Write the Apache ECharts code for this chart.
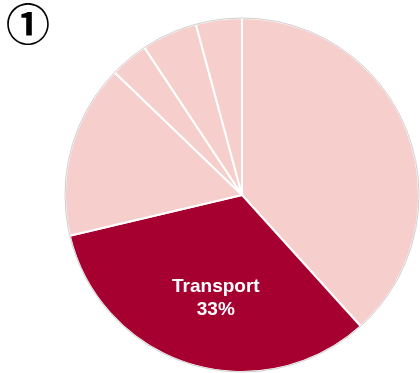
<!DOCTYPE html>
<html>
<head>
<meta charset="utf-8">
<script src="https://cdn.jsdelivr.net/npm/echarts@6/dist/echarts.min.js"></script>
<style>
  html, body { margin: 0; padding: 0; background: #fff; }
  #chart { width: 420px; height: 373px; }
</style>
</head>
<body>
<div id="chart"></div>
<script>
// Slices in clockwise order starting at 12 o'clock
const categories = ['Other A', 'Transport', 'Other B', 'Other C', 'Other D', 'Other E'];
const shares = [38.3, 33, 15.9, 3.5, 5.1, 4.2];
const highlighted = 'Transport';

const LIGHT = '#F6CFCC';
const DARK = '#A5002F';

const sliceData = categories.map((name, i) => {
  const isMain = name === highlighted;
  return {
    name: name,
    value: shares[i],
    itemStyle: { color: isMain ? DARK : LIGHT },
    label: { show: isMain }
  };
});

const chart = echarts.init(document.getElementById('chart'), null, { renderer: 'canvas' });
chart.setOption({
  animation: false,
  title: {
    text: '\u2460',
    left: 1,
    top: -3,
    textStyle: {
      fontFamily: 'Noto Sans CJK JP',
      fontSize: 44,
      fontWeight: 'bold',
      color: '#000'
    }
  },
  series: [
    {
      type: 'pie',
      center: [242, 195],
      radius: [0, 177],
      startAngle: 90,
      clockwise: true,
      avoidLabelOverlap: false,
      itemStyle: { borderColor: '#fff', borderWidth: 2 },
      emphasis: { disabled: true },
      label: {
        position: 'inside',
        formatter: (p) => p.name + '\n' + Math.round(p.value) + '%',
        color: '#fff',
        fontFamily: 'Liberation Sans, Arial, sans-serif',
        fontWeight: 'bold',
        fontSize: 19,
        lineHeight: 23,
        offset: [1, 16]
      },
      labelLine: { show: false },
      data: sliceData
    },
    {
      // thin outline around the whole pie
      type: 'pie',
      silent: true,
      center: [242, 195],
      radius: [0, 177],
      label: { show: false },
      labelLine: { show: false },
      emphasis: { disabled: true },
      itemStyle: { color: 'rgba(0,0,0,0)', borderColor: '#cfcfcf', borderWidth: 1 },
      data: [{ value: 1, name: 'outline' }]
    }
  ]
});
</script>
</body>
</html>
